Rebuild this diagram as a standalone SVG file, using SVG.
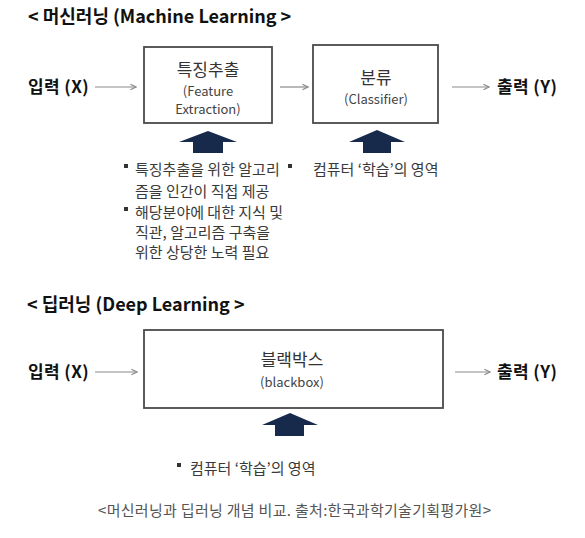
<svg xmlns="http://www.w3.org/2000/svg" width="585" height="538" viewBox="0 0 585 538">
  <style>
    text { font-family: "Noto Sans CJK KR", "Liberation Sans", sans-serif; }
    .title { font-size: 18px; font-weight: 700; fill: #111; }
    .io { font-size: 17px; font-weight: 700; fill: #111; letter-spacing: 0.4px; }
    .head { font-size: 17px; fill: #333; text-anchor: middle; }
    .sub { font-size: 13px; fill: #444; text-anchor: middle; }
    .note { font-size: 15px; fill: #3a3a3a; }
    .cap { font-size: 15px; fill: #555; letter-spacing: 0.3px; }
    .box { fill: #fff; stroke: #4a4a4a; stroke-width: 1.8; }
    .flow { stroke: #8a8a8a; stroke-width: 1.2; fill: none; marker-end: url(#chev); }
    .up { fill: #172a4b; }
    .dot { fill: #333; }
  </style>
  <defs>
    <marker id="chev" viewBox="0 0 10 10" refX="9" refY="5" markerWidth="8" markerHeight="8" markerUnits="userSpaceOnUse" orient="auto">
      <path d="M2,1.5 L9,5 L2,8.5" fill="none" stroke="#8a8a8a" stroke-width="1.4"/>
    </marker>
  </defs>
  <rect width="585" height="538" fill="#fff"/>

  <!-- section headings -->
  <text class="title" x="28" y="23">&lt; 머신러닝 (Machine Learning &gt;</text>
  <text class="title" x="27" y="311">&lt; 딥러닝 (Deep Learning &gt;</text>

  <!-- machine learning pipeline -->
  <g id="ml-input"><text class="io" x="28" y="93">입력 (X)</text></g>
  <g id="ml-feature">
    <rect class="box" x="144" y="47" width="128" height="76"/>
    <text class="head" x="208" y="76">특징추출</text>
    <text class="sub" x="208" y="96">(Feature</text>
    <text class="sub" x="208" y="114">Extraction)</text>
  </g>
  <g id="ml-classifier">
    <rect class="box" x="313" y="45" width="125" height="78"/>
    <text class="head" x="376" y="84">분류</text>
    <text class="sub" x="376" y="104">(Classifier)</text>
  </g>
  <g id="ml-output"><text class="io" x="497" y="93">출력 (Y)</text></g>

  <!-- deep learning pipeline -->
  <g id="dl-input"><text class="io" x="28" y="378">입력 (X)</text></g>
  <g id="dl-blackbox">
    <rect class="box" x="144" y="330" width="299" height="78"/>
    <text class="head" x="292" y="366">블랙박스</text>
    <text class="sub" x="292" y="387">(blackbox)</text>
  </g>
  <g id="dl-output"><text class="io" x="497" y="378">출력 (Y)</text></g>

  <!-- connectors -->
  <g id="connectors">
    <line class="flow" x1="95" y1="87" x2="136" y2="87"/>
    <line class="flow" x1="280" y1="87" x2="308" y2="87"/>
    <line class="flow" x1="452" y1="87" x2="489" y2="87"/>
    <line class="flow" x1="95" y1="372" x2="137" y2="372"/>
    <line class="flow" x1="455" y1="372" x2="490" y2="372"/>
  </g>

  <!-- learning arrows -->
  <g id="up-arrows">
    <path class="up" d="M208,131 L237,142 L223,142 L223,153 L193,153 L193,142 L179,142 Z"/>
    <path class="up" d="M377,130 L405,142 L391,142 L391,153 L363,153 L363,142 L349,142 Z"/>
    <path class="up" d="M290,413 L318,425 L304,425 L304,436 L275,436 L275,425 L262,425 Z"/>
  </g>

  <!-- notes -->
  <g id="ml-notes">
    <rect class="dot" x="124" y="164" width="4" height="4"/>
    <text class="note" x="135" y="175">특징추출을 위한 알고리</text>
    <text class="note" x="135" y="197">즘을 인간이 직접 제공</text>
    <rect class="dot" x="124" y="207" width="4" height="4"/>
    <text class="note" x="135" y="218">해당분야에 대한 지식 및</text>
    <text class="note" x="135" y="238">직관, 알고리즘 구축을</text>
    <text class="note" x="135" y="258">위한 상당한 노력 필요</text>
    <rect class="dot" x="288" y="164" width="4" height="4"/>
    <text class="note" x="313" y="175">컴퓨터 ‘학습’의 영역</text>
  </g>
  <g id="dl-notes">
    <rect class="dot" x="177" y="463" width="4" height="4"/>
    <text class="note" x="190" y="474">컴퓨터 ‘학습’의 영역</text>
  </g>

  <text class="cap" x="98" y="516">&lt;머신러닝과 딥러닝 개념 비교. 출처:한국과학기술기획평가원&gt;</text>
</svg>
